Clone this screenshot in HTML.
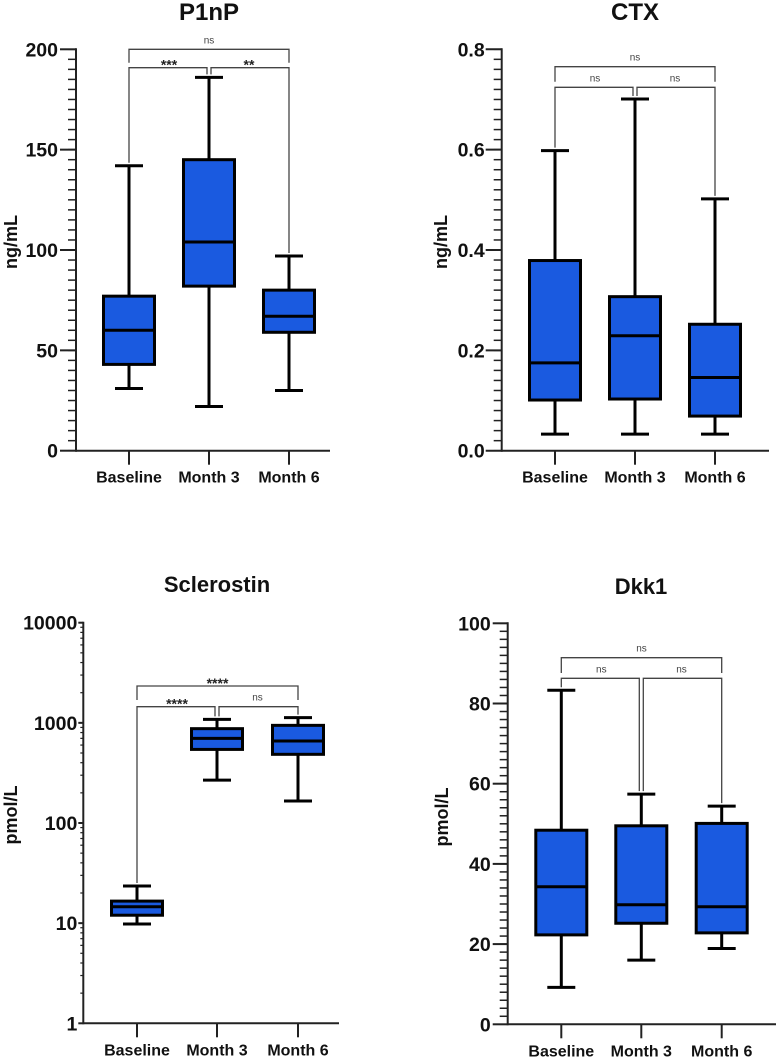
<!DOCTYPE html>
<html><head><meta charset="utf-8"><style>
body{margin:0;background:#fff;}
svg{display:block;font-family:"Liberation Sans",Arial,sans-serif;}
</style></head><body>
<svg id="fig" width="778" height="1060" viewBox="0 0 778 1060"></svg>
<script>
const categories = ["Baseline","Month 3","Month 6"];
// P1nP [min,q1,median,q3,max]
const p1npBaseline = [31,43,60,77,142];
const p1npMonth3 = [22,82,104,145,186];
const p1npMonth6 = [30,59,67,80,97];
const p1npTicks = [0,50,100,150,200];
// CTX
const ctxBaseline = [0.033,0.101,0.175,0.379,0.598];
const ctxMonth3 = [0.033,0.103,0.229,0.307,0.701];
const ctxMonth6 = [0.033,0.069,0.146,0.252,0.502];
const ctxTicks = ["0.0","0.2","0.4","0.6","0.8"];
// Sclerostin
const sclBaseline = [9.8,12,14.6,16.6,23.5];
const sclMonth3 = [268,543,700,875,1083];
const sclMonth6 = [166,485,659,944,1127];
const sclTicks = [1,10,100,1000,10000];
// Dkk1
const dkkBaseline = [9.2,22.3,34.3,48.4,83.3];
const dkkMonth3 = [16.0,25.2,29.8,49.5,57.4];
const dkkMonth6 = [18.9,22.8,29.3,50.1,54.4];
const dkkTicks = [0,20,40,60,80,100];
// significance labels
const p1npSig = ["ns","***","**"];
const ctxSig = ["ns","ns","ns"];
const sclSig = ["****","****","ns"];
const dkkSig = ["ns","ns","ns"];

const NS="http://www.w3.org/2000/svg";
const svg=document.getElementById('fig');
function mk(tag,attrs,parent,text){const e=document.createElementNS(NS,tag);for(const k in attrs)e.setAttribute(k,attrs[k]);if(text!==undefined)e.textContent=text;(parent||svg).appendChild(e);return e;}

function panel(cfg){
  const g=mk('g',{});
  
  
  const log=cfg.log;
  const lo=log?Math.log10(cfg.min):cfg.min, hi=log?Math.log10(cfg.max):cfg.max;
  const Y=v=>{const t=log?Math.log10(v):v;return cfg.y0-(t-lo)/(hi-lo)*(cfg.y0-cfg.y1);};
  const X=i=>cfg.xs[i];
  const t=mk('text',{x:cfg.titleX,y:cfg.titleY,'text-anchor':'middle','font-size':cfg.titleSize,'font-weight':'bold',fill:'#111'},g,cfg.title);
  
  
  const yt=mk('text',{x:0,y:0,transform:`translate(${cfg.ytX},${cfg.ytY}) rotate(-90)`,'text-anchor':'middle','font-size':18,'font-weight':'bold',fill:'#111'},g,cfg.ylabel);
  
  
  const ya=mk('line',{x1:cfg.ax,y1:cfg.y1-1,x2:cfg.ax,y2:cfg.y0+1,stroke:'#222','stroke-width':2},g);
  
  
  const xa=mk('line',{x1:cfg.ax,y1:cfg.y0,x2:cfg.axEnd,y2:cfg.y0,stroke:'#222','stroke-width':2},g);
  
  
  if(log){
    for(let d=lo;d<hi;d++){for(let m=2;m<=9;m++){const yy=Y(m*Math.pow(10,d));mk('line',{x1:cfg.ax-3,y1:yy,x2:cfg.ax,y2:yy,stroke:'#222','stroke-width':1.2},g);}}
  } else {
    const step=cfg.minor;
    for(let v=cfg.min;v<=cfg.max+1e-9;v+=step){const yy=Y(v);mk('line',{x1:cfg.ax-8,y1:yy,x2:cfg.ax,y2:yy,stroke:'#222','stroke-width':1.5},g);}
  }
  cfg.ticks.forEach(tv=>{
    const v=parseFloat(tv);const yy=Y(v);
    mk('line',{x1:cfg.ax-cfg.tickLen,y1:yy,x2:cfg.ax,y2:yy,stroke:'#222','stroke-width':2},g);
    const tl=mk('text',{x:cfg.ax-cfg.labelGap,y:yy+7,'text-anchor':'end','font-size':19.5,'font-weight':'bold',fill:'#111'},g,String(tv));
    
    
  });
  categories.forEach((c,i)=>{
    mk('line',{x1:X(i),y1:cfg.y0,x2:X(i),y2:cfg.y0+14,stroke:'#222','stroke-width':2},g);
    const cl=mk('text',{x:X(i),y:cfg.y0+32,'text-anchor':'middle','font-size':16,'font-weight':'bold',fill:'#111'},g,c);
    
    
  });
  cfg.series.forEach((s,i)=>{
    const bx=mk('g',{},g);
    
    
    const x=X(i),hw=25.5,cw=14;
    mk('line',{x1:x,y1:Y(s[0]),x2:x,y2:Y(s[4]),stroke:'#000','stroke-width':3},bx);
    mk('line',{x1:x-cw,y1:Y(s[0]),x2:x+cw,y2:Y(s[0]),stroke:'#000','stroke-width':3},bx);
    mk('line',{x1:x-cw,y1:Y(s[4]),x2:x+cw,y2:Y(s[4]),stroke:'#000','stroke-width':3},bx);
    mk('rect',{x:x-hw,y:Y(s[3]),width:hw*2,height:Y(s[1])-Y(s[3]),fill:'#1a5ae0',stroke:'#000','stroke-width':3},bx);
    mk('line',{x1:x-hw,y1:Y(s[2]),x2:x+hw,y2:Y(s[2]),stroke:'#000','stroke-width':3},bx);
  });
  const b=cfg.br, st='#444';
  const tops=cfg.series.map(s=>Y(s[4])-3);
  const bg=mk('g',{fill:'none',stroke:st,'stroke-width':1.3},g);
  
  
  mk('polyline',{points:`${X(0)},${b.topLeg} ${X(0)},${b.top} ${X(2)},${b.top} ${X(2)},${b.topLeg}`},bg);
  mk('polyline',{points:`${X(0)},${tops[0]} ${X(0)},${b.low} ${X(1)-2},${b.low} ${X(1)-2},${Math.max(b.low+5,tops[1])}`},bg);
  mk('polyline',{points:`${X(1)+2},${Math.max(b.low+5,tops[1])} ${X(1)+2},${b.low} ${X(2)},${b.low} ${X(2)},${tops[2]}`},bg);
  const lab=(txt,x,y)=>{const star=txt!=='ns';const e=mk('text',{x:x,y:star?y+8:y,'text-anchor':'middle','font-size':star?14:10,'font-weight':star?'bold':'normal',fill:star?'#222':'#444'},g,txt);
    
    };
  lab(cfg.sig[0],(X(0)+X(2))/2,b.top-6);
  lab(cfg.sig[1],(X(0)+X(1))/2,b.low-6);
  lab(cfg.sig[2],(X(1)+X(2))/2,b.low-6);
}

panel({id:'p1np',title:'P1nP',titleX:209,titleY:20,titleSize:24,ylabel:'ng/mL',ytX:17,ytY:242,
  min:0,max:200,minor:5,y0:450.7,y1:49.3,ax:76,axEnd:330,xs:[129,209,289],tickLen:16,labelGap:18,
  ticks:p1npTicks,series:[p1npBaseline,p1npMonth3,p1npMonth6],sig:p1npSig,br:{top:49.3,topLeg:62.7,low:67.7}});
panel({id:'ctx',title:'CTX',titleX:635,titleY:20,titleSize:24,ylabel:'ng/mL',ytX:447,ytY:242,
  min:0,max:0.8,minor:0.02,y0:450.7,y1:49.3,ax:501.7,axEnd:769,xs:[555,635,715],tickLen:16,labelGap:17,
  ticks:ctxTicks,series:[ctxBaseline,ctxMonth3,ctxMonth6],sig:ctxSig,br:{top:66.7,topLeg:81.7,low:87.3}});
panel({id:'sclerostin',title:'Sclerostin',titleX:217,titleY:592,titleSize:22,ylabel:'pmol/L',ytX:17,ytY:815,log:true,
  min:1,max:10000,y0:1023.3,y1:622.7,ax:83.3,axEnd:339,xs:[137,217,298],tickLen:5,labelGap:6,
  ticks:sclTicks,series:[sclBaseline,sclMonth3,sclMonth6],sig:sclSig,br:{top:686,topLeg:700,low:706.7}});
panel({id:'dkk1',title:'Dkk1',titleX:641,titleY:594,titleSize:22,ylabel:'pmol/L',ytX:448,ytY:817,
  min:0,max:100,minor:2,y0:1024.3,y1:623.3,ax:507.7,axEnd:776,xs:[561.3,641.3,721.7],tickLen:15,labelGap:17,
  ticks:dkkTicks,series:[dkkBaseline,dkkMonth3,dkkMonth6],sig:dkkSig,br:{top:657.7,topLeg:673,low:678.3}});
</script>
</body></html>
